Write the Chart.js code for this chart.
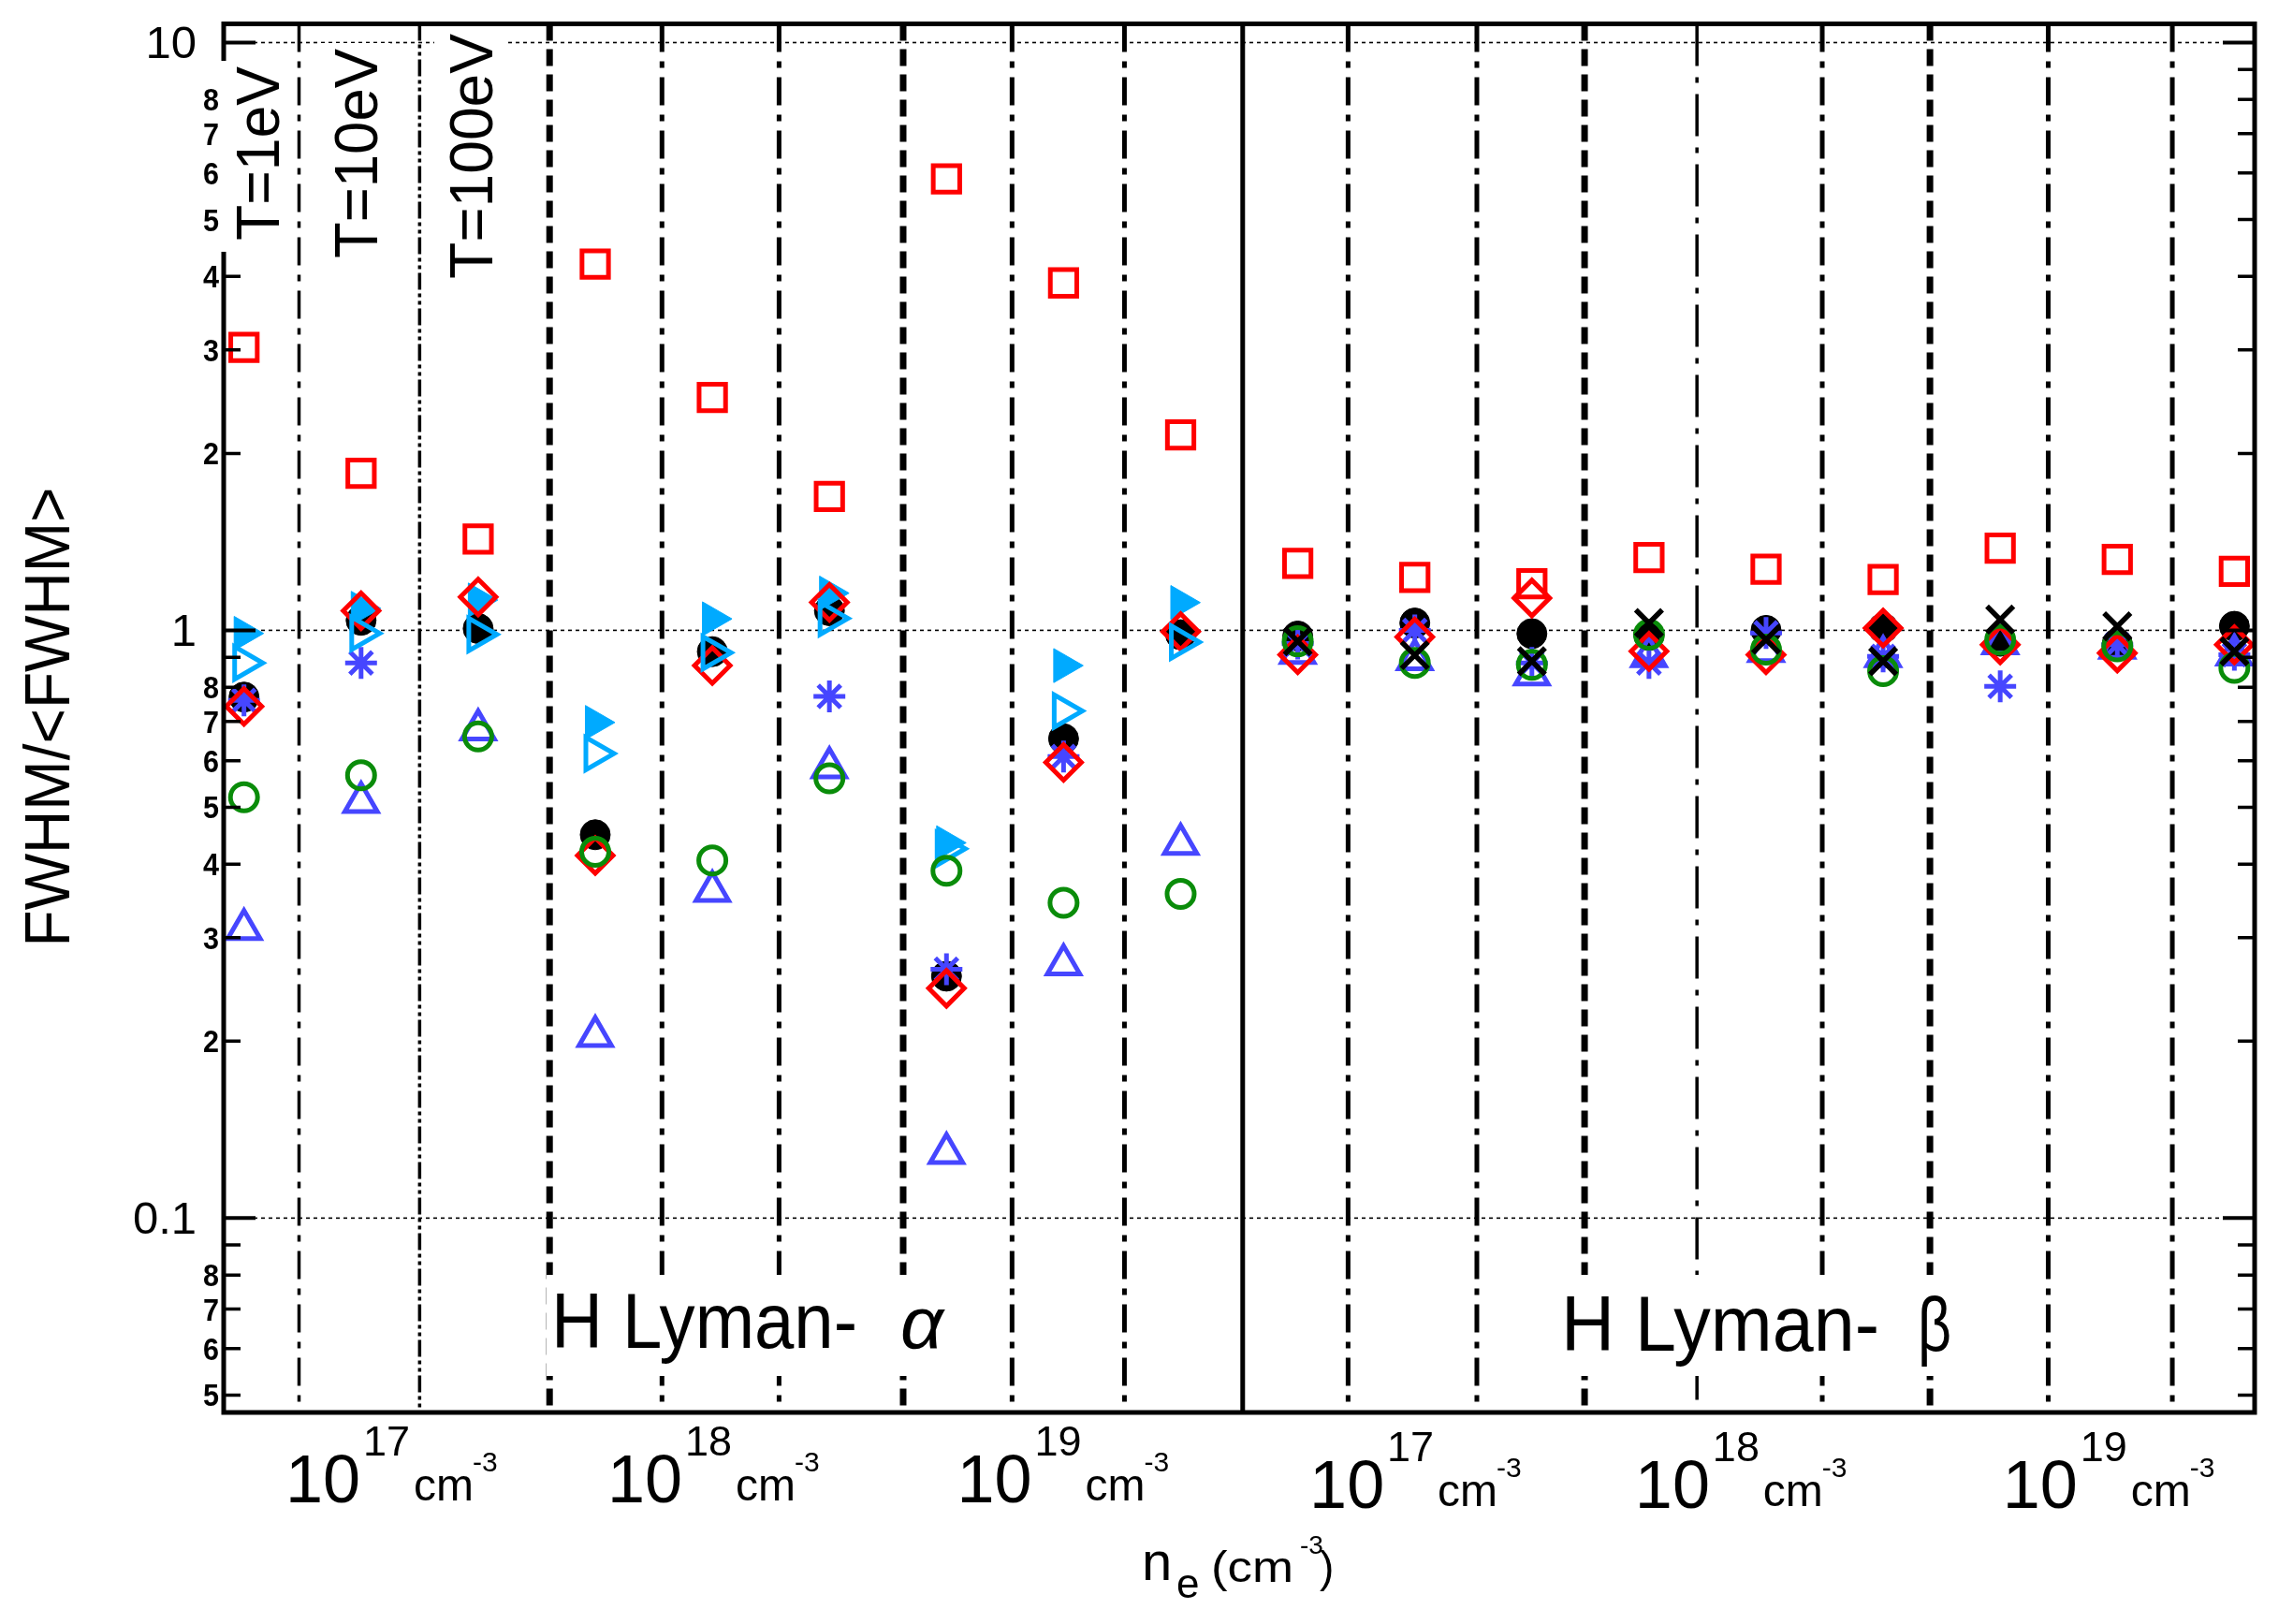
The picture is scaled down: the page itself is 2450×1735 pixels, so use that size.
<!DOCTYPE html>
<html lang="en">
<head>
<meta charset="UTF-8">
<title>FWHM/&lt;FWHM&gt; - H Lyman alpha / beta</title>
<script src="https://cdn.jsdelivr.net/npm/chart.js"></script>
<style>
    html, body { margin: 0; padding: 0; background: #fff; }
    #box { width: 2450px; height: 1735px; }
</style>
</head>
<body>
<div id="box"><canvas id="chartFwhm" width="2450" height="1735"></canvas></div>

<script>
    // column index along x: 0-8 = Lyman-alpha, 9-17 = Lyman-beta
    // (each density block holds T = 1, 10, 100 eV)
    const squareRed  = [3.03, 1.85, 1.43, 4.2, 2.49, 1.69, 5.86, 3.9, 2.15, 1.3, 1.23, 1.2, 1.33, 1.27, 1.22, 1.38, 1.32, 1.26];
    const diamondRed = [0.742, 1.08, 1.14, 0.414, 0.871, 1.116, 0.246, 0.596, 0.995, 0.909, 0.974, 1.135, 0.921, 0.909, 1.009, 0.945, 0.915, 0.945];
    const blackDot   = [0.77, 1.04, 1.007, 0.449, 0.92, 1.08, 0.258, 0.654, 0.983, 0.978, 1.029, 0.987, 0.98, 1.0, 1.009, 0.958, 0.95, 1.016];
    const cyanFull   = [0.988, 1.09, 1.126, 0.697, 1.046, 1.157, 0.435, 0.871, 1.115, null, null, null, null, null, null, null, null, null];
    const cyanOpen   = [0.88, 0.988, 0.984, 0.617, 0.916, 1.048, 0.425, 0.729, 0.955, null, null, null, null, null, null, null, null, null];
    const starBlue   = [0.76, 0.88, null, null, null, 0.772, 0.265, 0.61, null, 0.95, 1.0, 0.88, 0.88, 0.99, 0.903, 0.803, 0.945, 0.909];
    const triBlue    = [0.31, 0.51, 0.678, 0.204, 0.36, 0.584, 0.129, 0.27, 0.433, 0.915, 0.892, 0.841, 0.903, 0.921, 0.903, 0.95, 0.933, 0.909];
    const ringGreen  = [0.52, 0.567, 0.66, 0.42, 0.406, 0.56, 0.39, 0.344, 0.356, 0.958, 0.88, 0.874, 0.983, 0.927, 0.852, 0.964, 0.939, 0.863];
    const crossBlack = [null, null, null, null, null, null, null, null, null, 0.958, 0.907, 0.886, 1.029, 0.964, 0.886, 1.043, 1.016, 0.921];

    // separators between the blocks (x in column units) and their kind
    const sepX    = [0.47, 1.50, 2.61, 3.57, 4.57, 5.63, 6.56, 7.52, 8.53, 9.43, 10.53, 11.45, 12.41, 13.48, 14.40, 15.41, 16.47];
    const sepKind = ['thin', 'dots', 'bold', 'dd', 'dd', 'bold', 'dd', 'dd', 'solid', 'dd', 'dd', 'bold', 'long', 'dd', 'bold', 'dd', 'dd'];

    // density labels under the axis
    const densX   = [0.354, 3.104, 6.09, 9.10, 11.88, 15.02];
    const densExp = ['17', '18', '19', '17', '18', '19'];

    const tempLabels = ['T=1eV', 'T=10eV', 'T=100eV'];

    // y ticks
    const yMajor       = [0.1, 1, 10];
    const yMajorLabels = ['0.1', '1', '10'];
    const yMinor       = [0.05, 0.06, 0.07, 0.08, 0.09, 0.2, 0.3, 0.4, 0.5, 0.6, 0.7, 0.8, 0.9, 2, 3, 4, 5, 6, 7, 8, 9];
    const yMinorLabels = ['5', '6', '7', '8', '', '2', '3', '4', '5', '6', '7', '8', '', '2', '3', '4', '5', '6', '7', '8', ''];

    const yMin = 0.0467, yMax = 10.76;
    const xMin = -0.1735, xMax = 17.173;

    const FONT = '"Liberation Sans", Arial, sans-serif';

    const sepStyle = {
        thin:  { w: 3.5, dash: [30, 10, 7, 10] },
        dots:  { w: 3.5, dash: [18, 4, 4, 4, 4, 4] },
        bold:  { w: 7, dash: [18, 9] },
        dd:    { w: 5, dash: [30, 10, 7, 10] },
        long:  { w: 3.5, dash: [45, 12, 6, 12] },
        solid: { w: 5, dash: [] }
    };

    function serie(nome, valores, st) {
        let pontos = [];
        for (let i = 0; i < valores.length; i++) {
            if (valores[i] != null) pontos.push({ x: i, y: valores[i] });
        }
        return {
            label: nome,
            data: pontos,
            showLine: false,
            pointStyle: st.shape,
            pointRadius: st.r,
            pointHoverRadius: st.r,
            pointRotation: st.rot || 0,
            pointBorderColor: st.color,
            pointBackgroundColor: st.fill ? st.color : 'rgba(0,0,0,0)',
            pointBorderWidth: st.w,
            order: st.order
        };
    }

    let datasets = [];

    for (let i = 0; i < sepX.length; i++) {
        let st = sepStyle[sepKind[i]];
        datasets.push({
            label: 'sep' + i,
            data: [{ x: sepX[i], y: yMax }, { x: sepX[i], y: yMin }],
            showLine: true,
            borderColor: '#000',
            borderWidth: st.w,
            borderDash: st.dash,
            borderCapStyle: 'butt',
            pointRadius: 0,
            fill: false,
            order: 1000
        });
    }

    // bottom to top: higher order is painted first
    datasets.push(serie('square', squareRed, { shape: 'rect', r: 20, color: '#ff0000', w: 5, order: 90 }));
    datasets.push(serie('black', blackDot, { shape: 'circle', r: 16, color: '#000000', fill: true, w: 1, order: 80 }));
    datasets.push(serie('cyan filled', cyanFull, { shape: 'triangle', r: 21, rot: 90, color: '#00aaff', fill: true, w: 1, order: 70 }));
    datasets.push(serie('star', starBlue, { shape: 'star', r: 17, color: '#4646ff', w: 5, order: 60 }));
    datasets.push(serie('triangle', triBlue, { shape: 'triangle', r: 20, color: '#4646ff', w: 5, order: 50 }));
    datasets.push(serie('diamond', diamondRed, { shape: 'rectRot', r: 19, color: '#ff0000', w: 5, order: 40 }));
    datasets.push(serie('cyan open', cyanOpen, { shape: 'triangle', r: 20, rot: 90, color: '#00aaff', w: 5, order: 30 }));
    datasets.push(serie('ring', ringGreen, { shape: 'circle', r: 14.5, color: '#0a8c0a', w: 5, order: 20 }));
    datasets.push(serie('cross', crossBlack, { shape: 'crossRot', r: 20, color: '#000000', w: 5.5, order: 10 }));

    function texto(ctx, s, x, y, size, op) {
        op = op || {};
        ctx.save();
        ctx.font = (op.italic ? 'italic ' : '') + (op.bold ? 'bold ' : '') + size + 'px ' + FONT;
        ctx.fillStyle = '#000';
        ctx.textBaseline = 'alphabetic';
        ctx.textAlign = op.align || 'left';
        ctx.translate(x, y);
        if (op.rot) ctx.rotate(op.rot);
        if (op.width) {
            let w = ctx.measureText(s).width;
            ctx.scale(op.width / w, 1);
        }
        ctx.fillText(s, 0, 0);
        ctx.restore();
    }

    // dotted grid at the decades
    const gradePlugin = {
        id: 'grade',
        beforeDatasetsDraw(chart) {
            const ctx = chart.ctx, a = chart.chartArea, ys = chart.scales.y;
            ctx.save();
            ctx.strokeStyle = '#000';
            ctx.lineWidth = 1.6;
            ctx.setLineDash([4, 4]);
            yMajor.forEach(v => {
                let p = ys.getPixelForValue(v);
                ctx.beginPath();
                ctx.moveTo(a.left, p);
                ctx.lineTo(a.right, p);
                ctx.stroke();
            });
            ctx.restore();
        }
    };

    const eixosPlugin = {
        id: 'eixos',
        afterDatasetsDraw(chart) {
            const ctx = chart.ctx, a = chart.chartArea, ys = chart.scales.y, xs = chart.scales.x;

            // frame
            ctx.save();
            ctx.strokeStyle = '#000';
            ctx.lineWidth = 5;
            ctx.setLineDash([]);
            ctx.strokeRect(a.left, a.top, a.right - a.left, a.bottom - a.top);

            // inward ticks, left and right
            function tick(v, len, lw) {
                let p = ys.getPixelForValue(v);
                ctx.lineWidth = lw;
                ctx.beginPath();
                ctx.moveTo(a.left, p); ctx.lineTo(a.left + len, p);
                ctx.moveTo(a.right, p); ctx.lineTo(a.right - len, p);
                ctx.stroke();
            }
            yMajor.forEach(v => tick(v, 34, 4));
            yMinor.forEach(v => tick(v, 18, 3.5));
            ctx.restore();

            // tick labels
            yMajor.forEach((v, i) => {
                let p = ys.getPixelForValue(v);
                texto(ctx, yMajorLabels[i], 210, p + 17, 49, { align: 'right' });
            });
            yMinor.forEach((v, i) => {
                if (!yMinorLabels[i]) return;
                let p = ys.getPixelForValue(v);
                texto(ctx, yMinorLabels[i], 234, p + 12, 34, { align: 'right', bold: true, width: 17 });
            });

            // density labels 10^n cm^-3
            densX.forEach((xv, i) => {
                let x0 = xs.getPixelForValue(xv);
                let base = i < 3 ? 1605 : 1611;
                texto(ctx, '10', x0, base, 72);
                texto(ctx, densExp[i], x0 + 83, base - 50, 45);
                texto(ctx, 'cm', x0 + 137, base - 2, 48);
                texto(ctx, '-3', x0 + 200, base - 33, 30);
            });

            // axis titles
            texto(ctx, 'FWHM/<FWHM>', 74, 766, 68, { rot: -Math.PI / 2, align: 'center', width: 491 });
            texto(ctx, 'n', 1220, 1688, 58);
            texto(ctx, 'e', 1257, 1707, 44);
            texto(ctx, '(cm', 1294, 1690, 46, { width: 88 });
            texto(ctx, '-3', 1389, 1660, 28);
            texto(ctx, ')', 1410, 1690, 46);

            // temperature labels, rotated, on white boxes
            const tBase = [298, 403, 526], tMid = [164, 164, 167], tLen = [186, 224, 262];
            tempLabels.forEach((s, i) => {
                ctx.save();
                ctx.fillStyle = '#fff';
                ctx.fillRect(tBase[i] - 62, tMid[i] - tLen[i] / 2 - 6, 76, tLen[i] + 18);
                ctx.restore();
                texto(ctx, s, tBase[i], tMid[i], 64, { rot: -Math.PI / 2, align: 'center', width: tLen[i] });
            });

            // line names
            ctx.save();
            ctx.fillStyle = '#fff';
            ctx.fillRect(584, 1362, 428, 108);
            ctx.fillRect(1664, 1362, 424, 108);
            ctx.restore();
            texto(ctx, 'H Lyman-', 589, 1440, 84, { width: 327 });
            texto(ctx, '\u03B1', 962, 1440, 78, { italic: true, width: 46 });
            texto(ctx, 'H Lyman-', 1668, 1443, 84, { width: 340 });
            texto(ctx, '\u03B2', 2049, 1443, 82, { width: 36 });
        }
    };

    const config = {
        type: 'scatter',
        data: { datasets: datasets },
        options: {
            responsive: false,
            devicePixelRatio: 1,
            animation: false,
            layout: { padding: { left: 239, right: 41, top: 24, bottom: 226 } },
            plugins: {
                legend: { display: false },
                tooltip: { enabled: false }
            },
            scales: {
                x: { type: 'linear', min: xMin, max: xMax, display: false },
                y: { type: 'logarithmic', min: yMin, max: yMax, display: false }
            }
        },
        plugins: [gradePlugin, eixosPlugin]
    };

    let meuGrafico = new Chart(document.getElementById('chartFwhm'), config);
</script>
</body>
</html>
